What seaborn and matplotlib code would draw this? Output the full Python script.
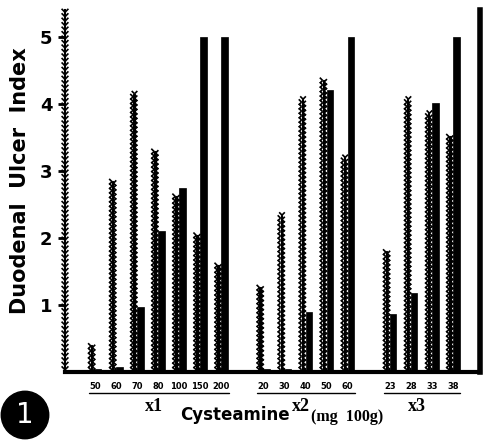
import numpy as np
import pandas as pd
import matplotlib
matplotlib.use("Agg")
import matplotlib.pyplot as plt
import matplotlib.patheffects as pe
import seaborn as sns

sns.set_style("ticks")
plt.rcParams['font.family'] = ['DejaVu Sans']
plt.rcParams['text.color'] = "black"
plt.rcParams['axes.labelcolor'] = "black"
plt.rcParams['xtick.color'] = "black"
plt.rcParams['ytick.color'] = "black"
plt.rcParams['axes.edgecolor'] = "black"

groups = ["x1"] * 7 + ["x2"] * 5 + ["x3"] * 4
doses = [50, 60, 70, 80, 100, 150, 200, 20, 30, 40, 50, 60, 23, 28, 33, 38]
# wavy (left) bars and solid (right) bars
index_wavy = [0.40, 2.85, 4.15, 3.30, 2.63, 2.05, 1.60,
              1.27, 2.34, 4.07, 4.36, 3.20,
              1.80, 4.07, 3.86, 3.52]
index_solid = [0.05, 0.07, 0.97, 2.10, 2.75, 5.00, 5.00,
               0.05, 0.05, 0.90, 4.20, 5.00,
               0.87, 1.18, 4.02, 5.00]

cats = [f"{g} {d}" for g, d in zip(groups, doses)]
df = pd.DataFrame({"cat": cats * 2,
                   "series": ["wavy"] * len(cats) + ["solid"] * len(cats),
                   "value": index_wavy + index_solid})

# category order with empty slots between the groups
order = []
for i, c in enumerate(cats):
    if i > 0 and groups[i] != groups[i - 1]:
        order.append(" " * i)
    order.append(c)

fig = plt.figure(figsize=(4.83, 4.46), dpi=100)
ax = fig.add_axes([65 / 483, 74 / 446, 415 / 483, 362 / 446])
sns.barplot(data=df, x="cat", y="value", hue="series", order=order,
            hue_order=["wavy", "solid"], palette={"wavy": "black", "solid": "black"},
            width=0.62, dodge=True, legend=False, ax=ax, saturation=1)

zig = [pe.Normal(),
       pe.TickedStroke(spacing=3.2, angle=-45, length=0.9, linewidth=1.2),
       pe.TickedStroke(spacing=3.2, angle=-135, length=0.9, linewidth=1.2)]
for p in ax.containers[0]:
    cx = p.get_x() + p.get_width() / 2
    p.set_width(0.07)
    p.set_x(cx - 0.035)
    p.set_edgecolor("black")
    p.set_linewidth(0.8)
    p.set_path_effects(zig)
for p in ax.containers[1]:
    p.set_edgecolor("black")
    p.set_linewidth(0.5)

ax.set_xlim(-1.42, len(order) - 1 + 1.28)
ax.set_ylim(0, 5.4)
ax.set_yticks([1, 2, 3, 4, 5])
ax.set_yticklabels(["1", "2", "3", "4", "5"], fontsize=13, fontweight="bold")
ax.tick_params(axis="y", length=5, width=2, pad=4)

pos = [order.index(c) for c in cats]
ax.set_xticks(pos)
ax.set_xticklabels([str(d) for d in doses], fontsize=6, fontweight="bold")
ax.tick_params(axis="x", length=0, pad=7)

ax.spines["top"].set_visible(False)
ax.spines["bottom"].set_linewidth(3)
ax.spines["right"].set_linewidth(4)
ax.spines["left"].set_linewidth(1.5)
ax.spines["left"].set_path_effects(
    [pe.Normal(),
     pe.TickedStroke(spacing=3.2, angle=-45, length=0.9, linewidth=1.2),
     pe.TickedStroke(spacing=3.2, angle=45, length=0.9, linewidth=1.2)])

ax.set_ylabel("Duodenal  Ulcer  Index", fontsize=15, fontweight="bold")
ax.yaxis.set_label_coords(-0.085, 0.53)
ax.set_xlabel("")

# group underlines and group labels
tr = ax.get_xaxis_transform()
for g in ["x1", "x2", "x3"]:
    gp = [p for p, gg in zip(pos, groups) if gg == g]
    ax.plot([gp[0] - 0.3, gp[-1] + 0.35], [-0.058, -0.058], color="black",
            lw=1, transform=tr, clip_on=False)
    ax.text(np.mean(gp) - 0.2, -0.095, g, transform=tr, ha="center", va="center",
            fontsize=13, fontweight="bold", family="Liberation Serif")

fig.text(235 / 483, 1 - 415 / 446, "Cysteamine", ha="center", va="center",
         fontsize=12, fontweight="bold")
fig.text(347 / 483, 1 - 417 / 446, "(mg  100g)", ha="center", va="center",
         fontsize=11.5, fontweight="bold", family="Liberation Serif")
fig.text(25 / 483, 1 - 415 / 446, "1", ha="center", va="center", color="white",
         fontsize=20, bbox=dict(boxstyle="circle,pad=0.35", fc="black", ec="black"))

fig.savefig("out.png", dpi=100)
